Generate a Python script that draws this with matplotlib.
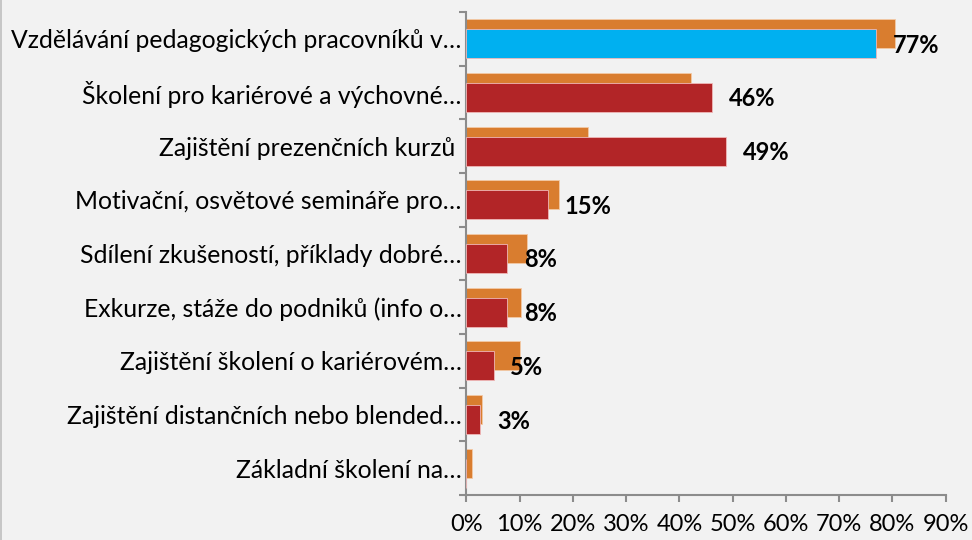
import numpy as np
import matplotlib
matplotlib.use('Agg')
from matplotlib import pyplot as plt
from matplotlib.ticker import FixedLocator, PercentFormatter

# data
categories = [
    'Vzdělávání pedagogických pracovníků v…',
    'Školení pro kariérové a výchovné…',
    'Zajištění prezenčních kurzů ',
    'Motivační, osvětové semináře pro…',
    'Sdílení zkušeností, příklady dobré…',
    'Exkurze, stáže do podniků (info o…',
    'Zajištění školení o kariérovém…',
    'Zajištění distančních nebo blended…',
    'Základní školení na…',
]
orange_vals = [80.5, 42.2, 22.8, 17.3, 11.4, 10.2, 10.1, 3.0, 1.0]
red_vals = [76.9, 46.2, 48.8, 15.3, 7.7, 7.7, 5.1, 2.6, 0]
x_ticks = [0, 10, 20, 30, 40, 50, 60, 70, 80, 90]

plt.rcParams['font.family'] = ['Lato', 'DejaVu Sans']

bg = '#F2F2F2'
fig = plt.figure(figsize=(9.72, 5.4), dpi=100)
fig.patch.set_facecolor(bg)
ax = fig.add_axes([0.4799, 0.0833, 0.4929, 0.8945])
ax.set_facecolor(bg)

y = np.arange(len(categories))
h = 0.54
off = 0.095
ax.barh(y - off, orange_vals, height=h, color='#D97D2F', edgecolor='#F3C9A6', linewidth=0.6, zorder=2)
red_colors = ['#00B0F0'] + ['#B22527'] * (len(categories) - 1)
ax.barh(y + off, red_vals, height=h, color=red_colors, edgecolor='#F0B8B8', linewidth=0.6, zorder=3)

# popisky hodnot
for i, v in enumerate(red_vals):
    if v > 0:
        ax.annotate('{:.0f}%'.format(v), (v, i + off), xytext=(12, -1), textcoords='offset points',
                    ha='left', va='center', fontsize=17, fontweight='bold', color='black', zorder=4)

ax.set_xlim(0, 90)
ax.set_ylim(len(categories) - 0.5, -0.5)
ax.set_xticks(x_ticks)
ax.xaxis.set_major_formatter(PercentFormatter(decimals=0))
ax.set_yticks(y)
ax.set_yticklabels(categories)
ax.yaxis.set_minor_locator(FixedLocator(np.arange(-0.5, len(categories), 1)))
ax.tick_params(axis='y', which='major', length=0, pad=3.5, labelsize=17.8)
ax.tick_params(axis='y', which='minor', length=5, width=1.5, color='#8C8C8C')
ax.tick_params(axis='x', which='major', length=5, width=1.5, color='#8C8C8C', pad=9, labelsize=17)

for s in ['top', 'right']:
    ax.spines[s].set_visible(False)
for s in ['left', 'bottom']:
    ax.spines[s].set_color('#8C8C8C')
    ax.spines[s].set_linewidth(1.5)

# okraj grafu vlevo
fig.add_artist(plt.Line2D([0.0015, 0.0015], [0, 1], color='#BFBFBF', lw=1.2, transform=fig.transFigure))

plt.savefig('out.png', dpi=100, facecolor=bg)
